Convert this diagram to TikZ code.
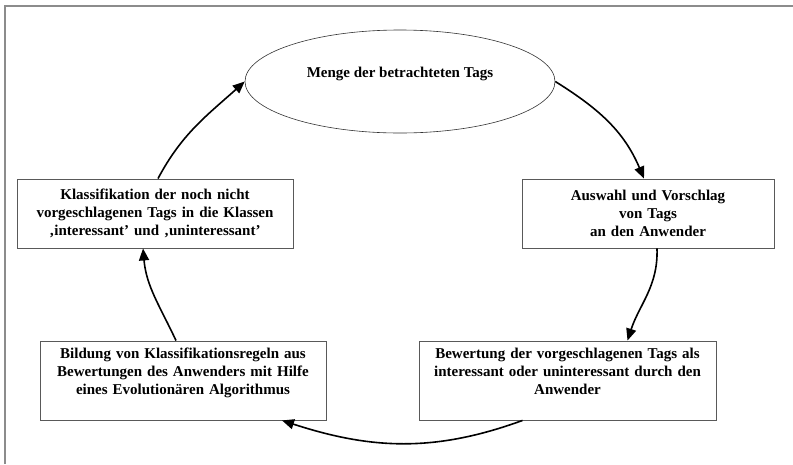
\documentclass[tikz,border=0pt]{standalone}
\usepackage{fontspec}
\setmainfont{Liberation Serif}
\usepackage{tikz}
\usetikzlibrary{arrows.meta, shapes.geometric}

\begin{document}
\begin{tikzpicture}[x=1pt, y=-1pt,
    >={Triangle[length=12pt, width=10pt]},
    kasten/.style={draw=black!65, line width=0.9pt, align=center, inner sep=4pt,
      font=\bfseries\fontsize{15}{18}\selectfont},
    pfeil/.style={thick, ->, line width=1.6pt}]
        \useasboundingbox (0,0) rectangle (793,464);
        \draw [black!45, line width=1.6pt] (5,464)--(5,6)--(793,6);
        \node [ellipse, draw=black!80, line width=0.6pt, inner sep=0pt,
          minimum width=310, minimum height=103, align=center,
          font=\bfseries\fontsize{15}{18}\selectfont]
          (menge) at (400,81.5) {Menge der betrachteten Tags\\ \mbox{}};
        \node [kasten, minimum width=252, minimum height=69, text width=244]
          (auswahl) at (648,213.5) {Auswahl und Vorschlag\\von Tags\\an den Anwender};
        \node [kasten, minimum width=297, minimum height=79, text width=289]
          (bewertung) at (567.5,380.5) {Bewertung der vorgeschlagenen Tags als\\interessant oder uninteressant durch den\\Anwender\\ \mbox{}};
        \node [kasten, minimum width=286, minimum height=79, text width=278]
          (bildung) at (183,380.5) {Bildung von Klassifikationsregeln aus\\Bewertungen des Anwenders mit Hilfe\\eines Evolutionären Algorithmus\\ \mbox{}};
        \node [kasten, minimum width=276, minimum height=69, text width=268]
          (klass) at (155,213.5) {Klassifikation der noch nicht\\vorgeschlagenen Tags in die Klassen\\‚interessant’ und ‚uninteressant’};
        \draw [pfeil] (menge.east) to[out=-32, in=113] ([xshift=-4]auswahl.north);
        \draw [pfeil] ([xshift=9]auswahl.south) to[out=-88, in=72] ([xshift=60]bewertung.north);
        \draw [pfeil] ([xshift=-45]bewertung.south) to[out=-160, in=-18] ([xshift=99]bildung.south);
        \draw [pfeil] ([xshift=-7]bildung.north) to[out=115, in=-85] ([xshift=-12]klass.south);
        \draw [pfeil] ([xshift=3]klass.north) to[out=62, in=-138] (menge.west);
      \end{tikzpicture}
\end{document}
